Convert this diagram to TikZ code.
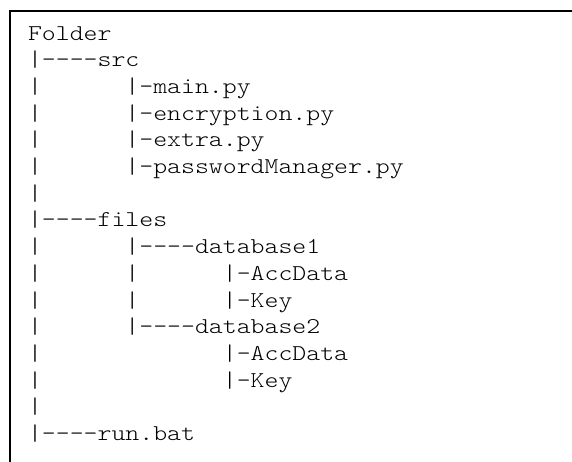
\documentclass[tikz,border=0pt]{standalone}
\usepackage{fontspec}
\newfontfamily\treefont[FakeStretch=1.173]{lmmonolt10-regular.otf}
\tikzset{
  treeline/.style={anchor=base west, inner sep=0pt, outer sep=0pt,
    text=black, font=\treefont\fontsize{22.6}{26.6}\selectfont\frenchspacing},
  frameline/.style={line width=2pt, line cap=rect}
}
\begin{document}
\begin{tikzpicture}[x=1pt,y=1pt]
\useasboundingbox (0,0) rectangle (572,-461);
% frame open at the bottom
\coordinate (fbl) at (10,-470);
\coordinate (ftl) at (10,-11);
\coordinate (ftr) at (580,-11);
\draw[frameline] (fbl) -- (ftl) -- (ftr);
% directory listing, one node per line
\def\lx{28}
\def\ly{40}
\def\ls{26.7}
\node[treeline] (l0)  at (\lx,{-(\ly+0*\ls)})  {Folder};
\node[treeline] (l1)  at (\lx,{-(\ly+1*\ls)})  {|----src};
\node[treeline] (l2)  at (\lx,{-(\ly+2*\ls)})  {|~~~~~~|-main.py};
\node[treeline] (l3)  at (\lx,{-(\ly+3*\ls)})  {|~~~~~~|-encryption.py};
\node[treeline] (l4)  at (\lx,{-(\ly+4*\ls)})  {|~~~~~~|-extra.py};
\node[treeline] (l5)  at (\lx,{-(\ly+5*\ls)})  {|~~~~~~|-passwordManager.py};
\node[treeline] (l6)  at (\lx,{-(\ly+6*\ls)})  {|};
\node[treeline] (l7)  at (\lx,{-(\ly+7*\ls)})  {|----files};
\node[treeline] (l8)  at (\lx,{-(\ly+8*\ls)})  {|~~~~~~|----database1};
\node[treeline] (l9)  at (\lx,{-(\ly+9*\ls)})  {|~~~~~~|~~~~~~|-AccData};
\node[treeline] (l10) at (\lx,{-(\ly+10*\ls)}) {|~~~~~~|~~~~~~|-Key};
\node[treeline] (l11) at (\lx,{-(\ly+11*\ls)}) {|~~~~~~|----database2};
\node[treeline] (l12) at (\lx,{-(\ly+12*\ls)}) {|~~~~~~~~~~~~~|-AccData};
\node[treeline] (l13) at (\lx,{-(\ly+13*\ls)}) {|~~~~~~~~~~~~~|-Key};
\node[treeline] (l14) at (\lx,{-(\ly+14*\ls)}) {|};
\node[treeline] (l15) at (\lx,{-(\ly+15*\ls)}) {|----run.bat};
\end{tikzpicture}
\end{document}
